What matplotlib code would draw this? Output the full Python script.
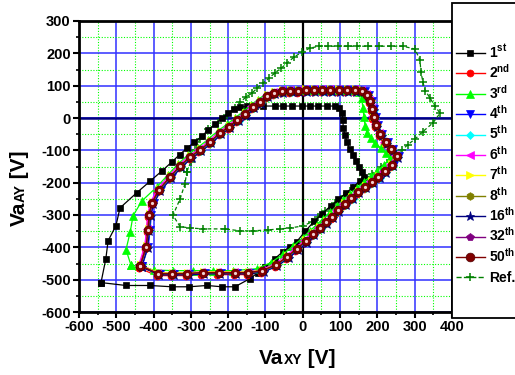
import matplotlib
matplotlib.use("Agg")
import matplotlib.pyplot as plt
from matplotlib.lines import Line2D
from matplotlib.patches import Rectangle
from matplotlib.transforms import ScaledTranslation
from matplotlib.ticker import MultipleLocator

plt.rcParams['font.family'] = ['Liberation Sans', 'DejaVu Sans']
plt.rcParams['font.weight'] = 'bold'
plt.rcParams['axes.unicode_minus'] = False
plt.rcParams['mathtext.fontset'] = 'custom'
plt.rcParams['mathtext.rm'] = 'Liberation Sans:bold'
plt.rcParams['mathtext.bf'] = 'Liberation Sans:bold'
plt.rcParams['mathtext.default'] = 'bf'

## values (VaXY, VaAY in volts)
x_1st = [-541, -528, -522, -501, -490, -445, -410, -378, -352, -330, -310, -291, -270, -254, -235, -217,
         -200, -185, -168, -150, -128, -107, -75, -53, -29, -2, 19, 41, 65, 86, 98, 105, 108, 108, 113,
         118, 126, 134, 142, 150, 158, 164, 153, 135, 115, 95, 75, 52, 30, 6, -16, -35, -53, -75, -100,
         -120, -142, -182, -217, -257, -305, -351, -410, -474, -541]
y_1st = [-509, -435, -380, -333, -278, -231, -196, -164, -137, -113, -93, -75, -56, -37, -19, 0,
         15, 28, 34, 36, 37, 37, 37, 37, 37, 37, 37, 37, 37, 37, 30, 15, -6, -31, -52,
         -74, -96, -114, -133, -151, -167, -182, -195, -213, -233, -252, -272, -296, -320, -351, -382, -398, -413, -435, -460,
         -478, -497, -522, -522, -518, -522, -522, -518, -518, -509]

x_3rd = [-461, -474, -463, -455, -431, -392, -362, -335, -308, -282, -255, -228, -204, -182, -161, -140,
         -121, -102, -83, -62, -40, -18, 4, 26, 48, 70, 92, 114, 136, 152, 158, 161, 164, 167, 172,
         182, 193, 209, 223, 234, 218, 200, 182, 163, 145, 127, 109, 91, 73, 55, 37, 19, 0, -25, -52,
         -85, -123, -187, -241, -294, -348, -400, -461]
y_3rd = [-454, -407, -354, -302, -256, -214, -176, -143, -114, -92, -67, -40, -20, 0, 19, 40,
         56, 72, 80, 85, 87, 88, 88, 88, 88, 88, 88, 88, 88, 80, 61, 31, 3, -25, -46,
         -62, -77, -93, -108, -124, -145, -163, -180, -198, -216, -234, -253, -272, -292, -311, -330, -349, -370, -395, -420,
         -447, -466, -472, -472, -472, -472, -470, -454]

# cycles 2nd..50th lie on top of each other in the picture
x_50th = [-436, -420, -415, -412, -404, -386, -356, -329, -302, -276, -249, -222, -198, -176, -155, -134,
          -115, -96, -77, -56, -34, -13, 8, 30, 52, 74, 96, 118, 140, 160, 172, 180, 186, 190, 196,
          208, 222, 237, 252, 238, 220, 202, 185, 167, 148, 130, 112, 94, 78, 62, 45, 27, 8, -16, -42,
          -72, -109, -147, -182, -225, -268, -310, -350, -388, -436]
y_50th = [-457, -398, -346, -299, -262, -222, -182, -148, -120, -99, -74, -46, -27, -6, 12, 34,
          49, 68, 77, 83, 84, 85, 86, 86, 86, 86, 86, 86, 86, 84, 72, 52, 28, 3, -22,
          -50, -75, -97, -118, -145, -165, -182, -198, -213, -228, -247, -266, -286, -305, -322, -340, -359, -381, -404, -429,
          -454, -472, -478, -478, -478, -478, -481, -481, -481, -457]

x_ref = [-311, -300, -288, -276, -254, -227, -203, -182, -168, -152, -136, -123, -107, -91, -75, -58,
         -42, -24, -2, 19, 43, 68, 94, 121, 145, 175, 204, 236, 269, 301, 314, 317, 322, 328, 341,
         354, 368, 349, 322, 301, 281, 266, 250, 234, 210, 185, 160, 135, 110, 85, 60, 40, 25, 0,
         -34, -61, -93, -134, -168, -209, -267, -302, -329, -348, -329, -316, -311]
y_ref = [-166, -135, -100, -64, -35, -15, 9, 31, 49, 65, 77, 92, 108, 123, 139, 154,
         170, 188, 204, 216, 222, 222, 222, 222, 222, 222, 222, 222, 222, 213, 179, 141, 111, 85, 62,
         37, 15, -15, -42, -65, -83, -99, -115, -130, -150, -172, -195, -218, -240, -263, -287, -305, -321, -334,
         -340, -343, -346, -349, -349, -343, -343, -340, -336, -301, -250, -204, -166]

cycle_names = ['1', '2', '3', '4', '5', '6', '7', '8', '16', '32', '50']
cycle_suffix = ['st', 'nd', 'rd', 'th', 'th', 'th', 'th', 'th', 'th', 'th', 'th']

# style per cycle: colour, marker, size, small shift in points so hidden cycles peek out
styles = {
    '1':  ('#000000', 's', 4.5, (0, 0)),
    '2':  ('#ff0000', 'o', 5.0, (-1.0, -1.5)),
    '3':  ('#00ff00', '^', 6.0, (0, 0)),
    '4':  ('#0000ff', 'v', 6.0, (1.5, 0)),
    '5':  ('#00ffff', 'D', 4.5, (1.0, -0.5)),
    '6':  ('#ff00ff', '<', 6.0, (-1.0, 0.5)),
    '7':  ('#ffff00', '>', 6.0, (0.5, 0.5)),
    '8':  ('#808000', 'h', 5.5, (0, -0.5)),
    '16': ('#000080', '*', 6.5, (1.0, -1.0)),
    '32': ('#800080', 'p', 5.5, (0.3, 0)),
    '50': ('#800000', 'o', 6.3, (0, 0)),
}

W, H = 515, 375
fig = plt.figure(figsize=(W / 100, H / 100), dpi=100)
ax = fig.add_axes([79 / W, 1 - 312 / H, (452 - 79) / W, (312 - 21) / H])

ax.set_xlim(-600, 400)
ax.set_ylim(-600, 300)
ax.xaxis.set_major_locator(MultipleLocator(100))
ax.yaxis.set_major_locator(MultipleLocator(100))
ax.xaxis.set_minor_locator(MultipleLocator(50))
ax.yaxis.set_minor_locator(MultipleLocator(50))
ax.grid(which='minor', color='#00ff00', ls=(0, (1, 1.5)), lw=0.8)
ax.grid(which='major', color='#3030ff', ls='-', lw=1.1)
ax.set_axisbelow(True)
ax.axvline(0, color='black', lw=1.6, zorder=1.5)
ax.axhline(0, color='#000080', lw=1.8, zorder=1.5)

for s in ax.spines.values():
    s.set_linewidth(2)
ax.tick_params(which='major', direction='out', length=4, width=1.5, labelsize=10.5, pad=2)
ax.tick_params(which='minor', direction='out', length=2.5, width=1.2)
for lab in ax.get_xticklabels() + ax.get_yticklabels():
    lab.set_fontweight('bold')

handles = []

ref_line, = ax.plot(x_ref, y_ref, color='#008000', lw=0.9, ls=(0, (3, 2)),
                    marker='+', ms=6, mew=1.1, zorder=3)

for name in cycle_names:
    color, mk, ms, (dx, dy) = styles[name]
    if name == '1':
        xs, ys = x_1st, y_1st
    elif name == '3':
        xs, ys = x_3rd, y_3rd
    else:
        xs, ys = x_50th, y_50th
    tr = ax.transData + ScaledTranslation(dx / 72, dy / 72, fig.dpi_scale_trans)
    ec = '#500000' if name == '50' else color
    ln, = ax.plot(xs, ys, color=color, lw=0.9, marker=mk, ms=ms, mfc=color, mec=ec,
                  mew=0.5, transform=tr, zorder=4)
    handles.append(ln)

# little highlight on the 50th cycle balls
ax.plot(x_50th, y_50th, ls='none', marker='o', ms=1.3, color='#f0d0d0', zorder=5)

handles.append(ref_line)
labels = [f'{n}$^{{{s}}}$' for n, s in zip(cycle_names, cycle_suffix)] + ['Ref.']

# legend box at the right, drawn by hand like the original
fig.add_artist(Rectangle((452 / W, 1 - 318 / H), 100 / W, 315 / H, transform=fig.transFigure,
                         fill=True, facecolor='white', edgecolor='black', lw=1.3, zorder=10))
for i, (h, lab) in enumerate(zip(handles, labels)):
    yc = 53 + i * 20.4
    yf = 1 - yc / H
    fig.add_artist(Line2D([456 / W, 485 / W], [yf, yf], transform=fig.transFigure,
                          color=h.get_color(), lw=1.0, ls=h.get_linestyle(), zorder=11))
    fig.add_artist(Line2D([470 / W], [yf], transform=fig.transFigure, ls='none',
                          marker=h.get_marker(), ms=h.get_markersize(), mfc=h.get_markerfacecolor(),
                          mec=h.get_markeredgecolor(), mew=h.get_markeredgewidth(), zorder=12))
    fig.text(489 / W, 1 - (yc + 4.5) / H, lab, fontsize=10, fontweight='bold',
             ha='left', va='baseline', zorder=12)

# axis labels: "Va" big, the two letters as small capitals
renderer = fig.canvas.get_renderer()


def draw_label(parts, x0, y0, vertical):
    pos = 0.0
    for txt, size in parts:
        tmp = fig.text(0, 0, txt, fontsize=size, fontweight='bold')
        w = tmp.get_window_extent(renderer).width
        tmp.remove()
        if vertical:
            fig.text(x0 / W, 1 - (y0 - pos) / H, txt, fontsize=size, fontweight='bold',
                     rotation=90, rotation_mode='anchor', ha='left', va='baseline')
        else:
            fig.text((x0 + pos) / W, 1 - y0 / H, txt, fontsize=size, fontweight='bold',
                     ha='left', va='baseline')
        pos += w


draw_label([('Va', 15), ('XY', 10), (' [V]', 15)], 259, 364, False)
draw_label([('Va', 15), ('AY', 10), (' [V]', 15)], 25, 226, True)

fig.savefig('out.png', dpi=100)
